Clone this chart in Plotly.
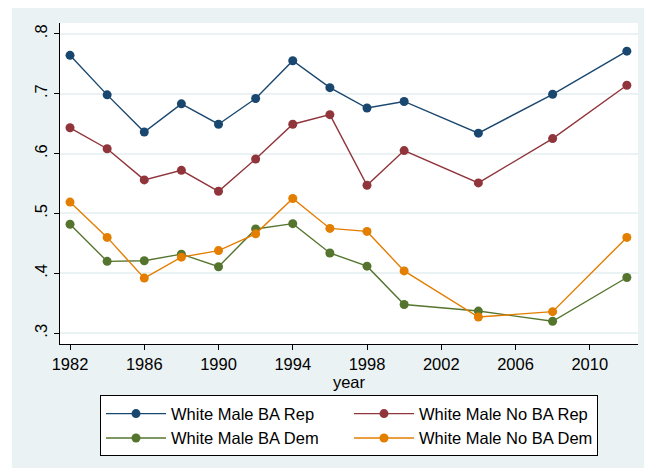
import plotly.graph_objects as go

years = [1982, 1984, 1986, 1988, 1990, 1992, 1994, 1996, 1998, 2000, 2004, 2008, 2012]

ba_rep = [0.764, 0.698, 0.636, 0.683, 0.649, 0.692, 0.755, 0.710, 0.676, 0.687, 0.634, 0.699, 0.771]
noba_rep = [0.643, 0.608, 0.556, 0.572, 0.537, 0.591, 0.649, 0.665, 0.547, 0.605, 0.551, 0.625, 0.714]
ba_dem = [0.482, 0.420, 0.421, 0.432, 0.411, 0.474, 0.483, 0.434, 0.412, 0.348, 0.337, 0.320, 0.393]
noba_dem = [0.519, 0.460, 0.392, 0.427, 0.438, 0.466, 0.525, 0.475, 0.470, 0.404, 0.327, 0.336, 0.460]

series = [
    ("White Male BA Rep", ba_rep, "#1A476F"),
    ("White Male No BA Rep", noba_rep, "#90353B"),
    ("White Male BA Dem", ba_dem, "#55752F"),
    ("White Male No BA Dem", noba_dem, "#E37E00"),
]

y_ticks = [0.3, 0.4, 0.5, 0.6, 0.7, 0.8]
y_labels = [".3", ".4", ".5", ".6", ".7", ".8"]
x_ticks = [1982, 1986, 1990, 1994, 1998, 2002, 2006, 2010]

bg = "#EAF2F3"
font = "Liberation Sans, Arial, sans-serif"

fig = go.Figure()
for name, vals, col in series:
    fig.add_trace(go.Scatter(
        x=years, y=vals, name=name, mode="lines+markers",
        line=dict(color=col, width=1.4),
        marker=dict(color=col, size=9),
    ))

# page body has an 8px margin, so the figure is a bit smaller than the window
fig.update_layout(
    width=644, height=460,
    margin=dict(l=52, r=14, t=15, b=121),
    paper_bgcolor=bg, plot_bgcolor="white",
    font=dict(family=font, size=16.5, color="black"),
    showlegend=True,
    legend=dict(
        orientation="h", x=0.5, xanchor="center", y=-0.16, yanchor="top",
        bgcolor="white", bordercolor="black", borderwidth=1,
        entrywidth=173, itemwidth=60, tracegroupgap=0,
        font=dict(size=16.5),
    ),
    shapes=[
        dict(type="rect", xref="paper", yref="paper", x0=-0.2, x1=-0.083, y0=-0.5, y1=1.2,
             fillcolor="white", line=dict(width=0), layer="below"),
    ],
)

fig.update_xaxes(
    range=[1981.46, 2012.6], tickvals=x_ticks,
    showgrid=False, zeroline=False,
    showline=True, linecolor="black", linewidth=1,
    ticks="outside", ticklen=5, tickcolor="black",
    title=dict(text="year", standoff=0, font=dict(size=16.5)),
)
fig.update_yaxes(
    range=[0.282, 0.818], tickvals=y_ticks, ticktext=y_labels, tickangle=-90,
    showgrid=True, gridcolor=bg, gridwidth=1.5, zeroline=False,
    showline=True, linecolor="black", linewidth=1,
    ticks="outside", ticklen=5, tickcolor="black",
)

fig.write_html("out.html")
